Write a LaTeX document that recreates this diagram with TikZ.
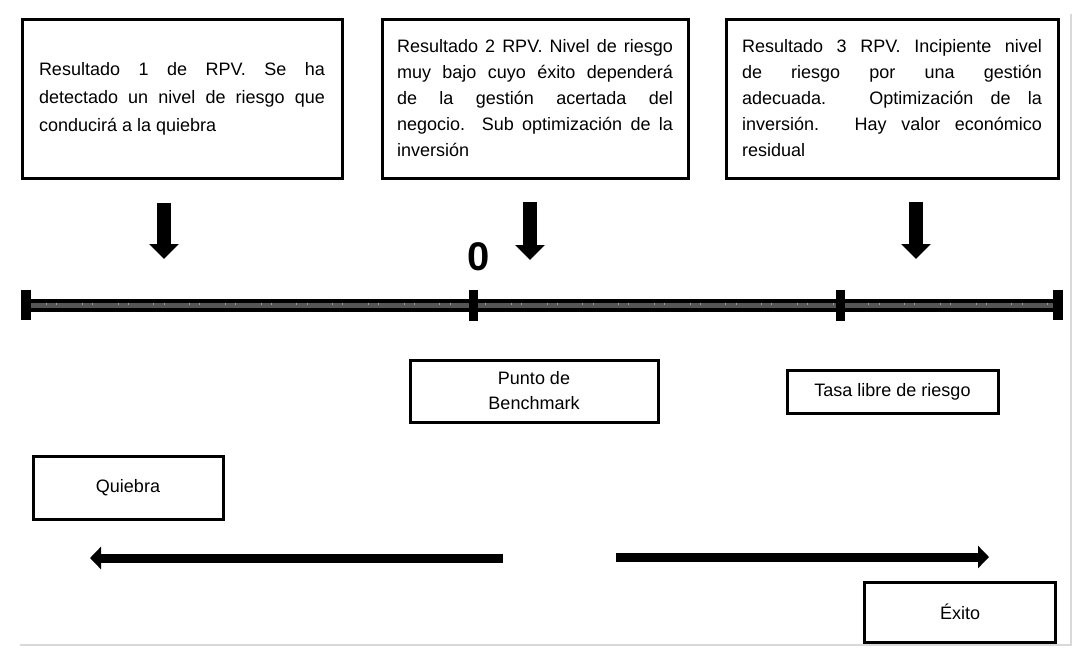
\documentclass[tikz,border=0pt]{standalone}
\usepackage{fontspec}
\setmainfont{Liberation Sans}
\usetikzlibrary{arrows.meta}
\definecolor{axgray}{HTML}{555555}
\definecolor{tickgray}{HTML}{9A9A9A}
\definecolor{framegray}{HTML}{D9D9D9}
\begin{document}
\begin{tikzpicture}[x=1pt,y=-1pt,
  topbox/.style={draw, line width=3pt, minimum height=159pt, align=justify, inner sep=0pt},
  lowbox/.style={draw, line width=3pt, align=center, inner sep=0pt, font=\fontsize{18}{25}\selectfont},
  downarrow/.style={line width=14pt, -{Triangle[width=29pt,length=15pt]}},
  sidearrow/.style={line width=9pt, -{Triangle[width=22pt,length=11pt]}},
  bigtick/.style={line width=9pt},
  endcap/.style={line width=10pt}
]
\useasboundingbox (0,0) rectangle (1078,654);

% light frame
\coordinate (fTop) at (1071,14);
\coordinate (fCorner) at (1071,645);
\coordinate (fLeft) at (20,645);
\draw[framegray, line width=2.5pt] (fTop) -- (fCorner) -- (fLeft);

% top boxes
\node[topbox, minimum width=320pt, text width=286pt, font=\fontsize{18}{28}\selectfont] (r1) at (182,98.5)
 {Resultado 1 de RPV. Se ha\linebreak detectado un nivel de riesgo que\linebreak conducirá a la quiebra};
\node[topbox, minimum width=306pt, text width=276pt, font=\fontsize{18}{26}\selectfont] (r2) at (535,98.5)
 {Resultado 2 RPV. Nivel de riesgo\linebreak muy bajo cuyo éxito dependerá\linebreak de la gestión acertada del\linebreak negocio. Sub optimización de la\linebreak inversión};
\node[topbox, minimum width=332pt, text width=300pt, font=\fontsize{18}{26}\selectfont] (r3) at (892,98.5)
 {Resultado 3 RPV. Incipiente nivel\linebreak de riesgo por una gestión\linebreak adecuada. Optimización de la\linebreak inversión. Hay valor económico\linebreak residual};

% down arrows
\coordinate (d1s) at (164,203); \coordinate (d1e) at (164,259);
\coordinate (d2s) at (530,202); \coordinate (d2e) at (530,260);
\coordinate (d3s) at (916,202); \coordinate (d3e) at (916,259);
\draw[downarrow] (d1s) -- (d1e);
\draw[downarrow] (d2s) -- (d2e);
\draw[downarrow] (d3s) -- (d3e);

% zero label
\node[font=\fontsize{40}{40}\selectfont\bfseries, inner sep=0pt] (zero) at (479,257) {0};

% axis
\coordinate (axL) at (26,305);
\coordinate (axR) at (1058,305);
\coordinate (t1) at (473,305);
\coordinate (t2) at (840,305);
\draw[line width=13pt] (axL) -- (axR);
\draw[axgray, line width=5pt] (axL) -- (axR);
\foreach \k in {0,...,28}{
  \draw[tickgray, line width=1pt] ({46.5+35.75*\k},302.5) -- ++(0,2);
  \draw[tickgray, line width=1pt] ({56.8+35.75*\k},302.5) -- ++(0,2);
}
\draw[endcap] ([yshift=15pt]axL) -- ([yshift=-15pt]axL);
\draw[endcap] ([yshift=15pt]axR) -- ([yshift=-15pt]axR);
\draw[bigtick] ([yshift=15pt]t1) -- ([yshift=-16pt]t1);
\draw[bigtick] ([yshift=15pt]t2) -- ([yshift=-16pt]t2);

% lower boxes
\node[lowbox, minimum width=248pt, minimum height=62pt] (bench) at (534,391) {Punto de\\Benchmark};
\node[lowbox, minimum width=211pt, minimum height=43pt] (tasa) at (892.5,391.5) {Tasa libre de riesgo};
\node[lowbox, minimum width=190pt, minimum height=63pt] (quiebra) at (128,488) {Quiebra};
\node[lowbox, minimum width=191pt, minimum height=60pt] (exito) at (960,612) {Éxito};

% horizontal arrows
\coordinate (la1) at (503,558); \coordinate (la2) at (90,558);
\coordinate (ra1) at (616,557); \coordinate (ra2) at (989,557);
\draw[sidearrow] (la1) -- (la2);
\draw[sidearrow] (ra1) -- (ra2);
\end{tikzpicture}
\end{document}
